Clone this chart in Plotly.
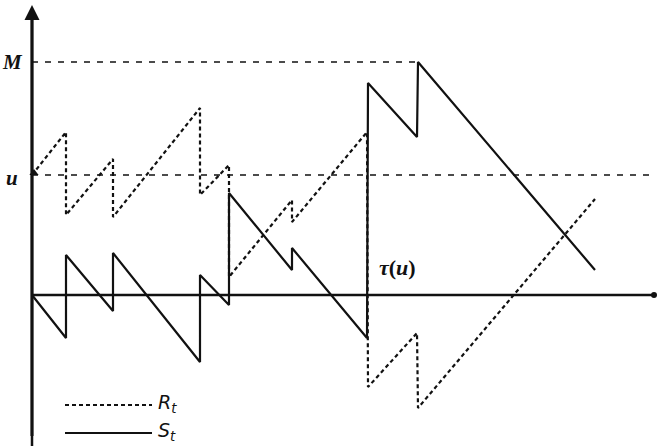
"""
Surplus process R_t and claims-minus-premium process S_t, with ruin time tau(u).
"""

import plotly.graph_objects as go

# jump times (horizontal units) and process values
t = [0, 34, 34, 81, 81, 168, 168, 197, 197, 260, 260, 335, 336, 385, 386, 563]
S_t = [0, -43, 40, -16, 42, -67, 20, -10, 102, 25, 47, -43, 212, 158, 233, 25]
R_t = [120, 163, 80, 136, 78, 187, 100, 130, 18, 95, 73, 163, -92, -38, -113, 96]

u = 120
M = 233
tau_u = 336
t_end = 622

INK = "#111111"
SERIF = "Liberation Serif"

fig = go.Figure()

# reference levels u and M
fig.add_trace(go.Scatter(
    x=[0, t_end], y=[u, u], mode="lines",
    line=dict(color=INK, width=1.3, dash="6px,7px"), hoverinfo="skip"
))
fig.add_trace(go.Scatter(
    x=[0, 386], y=[M, M], mode="lines",
    line=dict(color=INK, width=1.3, dash="6px,7px"), hoverinfo="skip"
))

# R_t dashed
fig.add_trace(go.Scatter(
    x=t, y=R_t, mode="lines", name="R_t",
    line=dict(color=INK, width=2.2, dash="4px,3px")
))
# S_t solid
fig.add_trace(go.Scatter(
    x=t, y=S_t, mode="lines", name="S_t",
    line=dict(color=INK, width=2.2)
))

# axes drawn by hand: y axis with arrow, x axis with end dot
fig.add_shape(type="line", x0=0, x1=0, y0=-141, y1=282,
              line=dict(color=INK, width=3))
fig.add_shape(type="line", x0=0, x1=t_end, y0=0, y1=0,
              line=dict(color=INK, width=2.5))
fig.add_annotation(x=0, y=290, ax=0, ay=-200, axref="x", ayref="y",
                   showarrow=True, arrowhead=2, arrowsize=1.2, arrowwidth=2.5,
                   arrowcolor=INK, text="")
fig.add_trace(go.Scatter(
    x=[t_end], y=[0], mode="markers",
    marker=dict(color=INK, size=6), hoverinfo="skip"
))
fig.add_trace(go.Scatter(
    x=[2], y=[u + 2], mode="markers",
    marker=dict(color=INK, size=8, symbol="triangle-up"), hoverinfo="skip"
))

# labels
label_font = dict(family=SERIF, size=21, color=INK)
fig.add_annotation(x=-20, y=M, text="<b><i>M</i></b>", showarrow=False,
                   font=label_font)
fig.add_annotation(x=-20, y=u - 3, text="<b><i>u</i></b>", showarrow=False,
                   font=label_font)
fig.add_annotation(x=tau_u + 9, y=28, text="<b><i>τ</i>(<i>u</i>)</b>",
                   showarrow=False, xanchor="left",
                   font=dict(family=SERIF, size=22, color=INK))

# legend samples
fig.add_shape(type="line", x0=33, x1=120, y0=-110, y1=-110,
              line=dict(color=INK, width=1.8, dash="4px,3px"))
fig.add_shape(type="line", x0=33, x1=120, y0=-138, y1=-138,
              line=dict(color=INK, width=1.8))
legend_font = dict(family="DejaVu Sans", size=19, color=INK)
fig.add_annotation(x=124, y=-108, text="<i>R</i><sub><i>t</i></sub>",
                   showarrow=False, xanchor="left", font=legend_font)
fig.add_annotation(x=124, y=-136, text="<i>S</i><sub><i>t</i></sub>",
                   showarrow=False, xanchor="left", font=legend_font)

fig.update_layout(
    width=657, height=446,
    margin=dict(l=0, r=0, t=0, b=0),
    plot_bgcolor="white", paper_bgcolor="white",
    showlegend=False,
    xaxis=dict(range=[-32, 625], visible=False, fixedrange=True),
    yaxis=dict(range=[-151, 295], visible=False, fixedrange=True),
)

# drop the default body margin so the figure sits at the page corner
fig.write_html("out.html", config={"displayModeBar": False},
               post_script="document.body.style.margin='0';")
